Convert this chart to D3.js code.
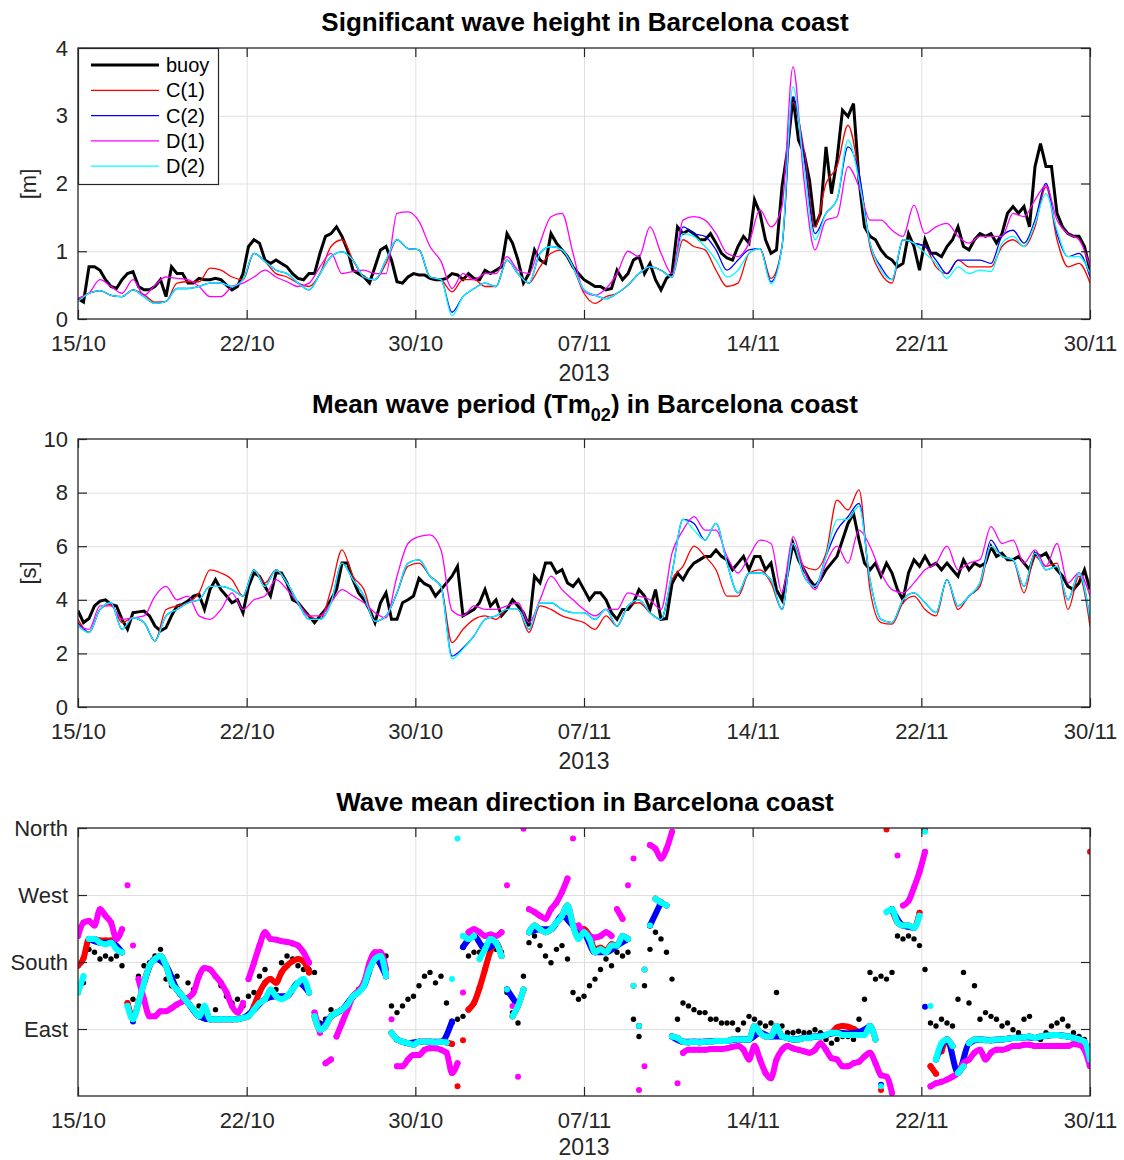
<!DOCTYPE html>
<html>
<head>
<meta charset="utf-8">
<script src="https://cdn.jsdelivr.net/npm/d3@7"></script>
<style>
  body { margin: 0; background: #fff; }
  svg { display: block; }
  text { font-family: "Liberation Sans", Arial, Helvetica, sans-serif; }
</style>
</head>
<body>
<svg id="chart" width="1124" height="1160"></svg>
<script>
// ---------------------------------------------------------------------------
// Time span and tick positions (six equal intervals, labelled dd/mm)
// ---------------------------------------------------------------------------
const startDate = "2013-10-15T00:00:00Z";
const endDate   = "2013-11-30T00:00:00Z";
const xTickDates = [
  "2013-10-15T00:00:00Z", "2013-10-22T16:00:00Z", "2013-10-30T08:00:00Z",
  "2013-11-07T00:00:00Z", "2013-11-14T16:00:00Z", "2013-11-22T08:00:00Z",
  "2013-11-30T00:00:00Z"
];
const xAxisLabel = "2013";

const seriesNames  = ["buoy", "C(1)", "C(2)", "D(1)", "D(2)"];
const seriesColors = ["#000000", "#ff0000", "#0000ff", "#ff00ff", "#00ffff"];

// ---------------------------------------------------------------------------
// Significant wave height [m]; buoy every 6 h, model runs every 12 h
// ---------------------------------------------------------------------------
const hsTicks = [0, 1, 2, 3, 4];
const hsBuoy = [
  0.30,0.25,0.77,0.77, 0.72,0.58,0.48,0.45, 0.58,0.67,0.70,0.48, 0.43,0.43,0.48,0.58, 0.33,0.77,0.67,0.67,
  0.53,0.53,0.60,0.58, 0.58,0.60,0.58,0.50, 0.43,0.48,0.67,1.07, 1.17,1.12,0.87,0.82, 0.87,0.82,0.77,0.67,
  0.60,0.58,0.67,0.67, 0.97,1.22,1.26,1.36, 1.22,1.02,0.72,0.67, 0.62,0.53,0.77,1.02, 1.07,0.87,0.55,0.53,
  0.62,0.67,0.65,0.65, 0.60,0.58,0.58,0.60, 0.67,0.65,0.58,0.67, 0.60,0.58,0.72,0.67, 0.72,0.77,1.26,1.12,
  0.87,0.53,0.67,1.02, 0.87,0.82,1.26,1.12, 1.02,0.92,0.77,0.67, 0.58,0.53,0.48,0.48, 0.43,0.45,0.72,0.58,
  0.67,0.87,0.92,0.67, 0.82,0.58,0.43,0.60, 0.67,1.36,1.26,1.31, 1.26,1.17,1.17,1.26, 1.12,0.97,0.90,0.87,
  1.07,1.22,1.12,1.76, 1.56,1.17,0.97,1.02, 1.95,2.49,3.28,2.64, 2.45,2.05,1.36,1.56, 2.54,1.85,2.35,3.08,
  2.99,3.18,2.05,1.36, 1.22,1.17,1.02,0.92, 0.87,0.77,0.82,1.26, 1.07,0.72,1.17,0.97, 0.97,0.92,1.07,1.17,
  1.36,1.07,1.02,1.17, 1.26,1.22,1.26,1.12, 1.26,1.56,1.66,1.56, 1.66,1.36,2.25,2.59, 2.25,2.25,1.56,1.36,
  1.26,1.22,1.22,1.07, 0.72
];
const hsC1 = [
  0.30,0.38, 0.42,0.35, 0.33,0.43, 0.36,0.25, 0.26,0.53,
  0.55,0.55, 0.75,0.72, 0.62,0.58, 0.97,0.85, 0.67,0.62,
  0.53,0.48, 0.67,1.07, 1.17,0.87, 0.62,0.58, 0.82,1.17,
  1.04,1.02, 0.62,0.58, 0.40,0.58, 0.58,0.48, 0.48,0.87,
  0.67,0.53, 0.77,0.97, 1.02,0.77, 0.38,0.23, 0.33,0.38,
  0.50,0.67, 0.77,0.72, 0.62,1.17, 1.07,1.02, 0.72,0.48,
  0.53,0.97, 1.04,0.60, 1.07,3.20, 2.50,1.36, 2.00,2.25,
  2.86,2.15, 1.07,0.67, 0.53,1.17, 1.12,1.07, 0.77,0.67,
  0.87,0.77, 0.77,0.77, 1.07,1.17, 1.07,1.36, 1.95,1.17,
  0.77,0.82, 0.53
];
const hsC2 = [
  0.28,0.38, 0.42,0.35, 0.33,0.43, 0.33,0.23, 0.26,0.45,
  0.45,0.48, 0.53,0.53, 0.48,0.58, 0.97,0.85, 0.72,0.67,
  0.53,0.43, 0.67,0.92, 0.99,0.87, 0.62,0.58, 0.87,1.17,
  1.04,1.02, 0.62,0.58, 0.10,0.33, 0.45,0.53, 0.48,0.87,
  0.67,0.53, 0.97,1.07, 1.02,0.77, 0.43,0.35, 0.30,0.38,
  0.50,0.67, 0.77,0.72, 0.62,1.36, 1.26,1.22, 1.02,0.72,
  0.87,1.02, 1.04,0.55, 1.07,3.28, 2.40,1.26, 1.56,1.76,
  2.54,2.15, 1.12,0.77, 0.58,1.17, 1.12,1.07, 0.87,0.67,
  0.87,0.87, 0.87,0.82, 1.22,1.31, 1.12,1.46, 2.00,1.26,
  0.92,0.97, 0.62
];
const hsD1 = [
  0.30,0.38, 0.58,0.48, 0.38,0.58, 0.35,0.50, 0.62,0.60,
  0.58,0.48, 0.33,0.33, 0.48,0.53, 0.62,0.72, 0.62,0.55,
  0.48,0.53, 0.77,0.97, 0.67,0.70, 0.72,0.67, 0.67,1.56,
  1.58,1.44, 1.07,0.85, 0.45,0.67, 0.58,0.67, 0.67,0.92,
  0.72,0.67, 1.12,1.51, 1.56,0.97, 0.41,0.35, 0.45,0.67,
  1.00,0.92, 1.36,0.97, 0.67,1.46, 1.51,1.46, 1.26,0.97,
  0.92,1.12, 1.61,1.36, 1.66,3.72, 2.05,1.02, 1.46,1.51,
  2.25,1.95, 1.46,1.46, 1.31,1.22, 1.68,1.26, 1.36,1.41,
  1.22,1.12, 1.22,1.22, 1.22,1.56, 1.51,1.76, 1.97,1.46,
  1.26,1.17, 0.77
];
const hsD2 = [
  0.26,0.38, 0.42,0.35, 0.33,0.43, 0.33,0.23, 0.26,0.45,
  0.45,0.48, 0.53,0.53, 0.48,0.58, 0.97,0.85, 0.72,0.67,
  0.53,0.43, 0.67,0.92, 0.99,0.87, 0.62,0.58, 0.87,1.17,
  1.04,1.02, 0.62,0.58, 0.05,0.33, 0.45,0.53, 0.48,0.87,
  0.67,0.53, 0.97,1.07, 1.02,0.77, 0.43,0.35, 0.30,0.38,
  0.50,0.67, 0.77,0.72, 0.62,1.26, 1.22,1.07, 0.87,0.62,
  0.72,0.97, 1.04,0.52, 1.07,3.43, 2.25,1.17, 1.56,1.76,
  2.64,2.05, 1.12,0.72, 0.58,1.17, 1.12,0.97, 0.82,0.60,
  0.77,0.67, 0.72,0.70, 1.12,1.22, 1.07,1.41, 1.85,1.31,
  0.92,0.92, 0.67
];

// ---------------------------------------------------------------------------
// Mean wave period Tm02 [s]
// ---------------------------------------------------------------------------
const tmTicks = [0, 2, 4, 6, 8, 10];
const tmBuoy = [
  3.60,3.15,3.30,3.77, 3.95,4.00,3.83,3.77, 3.27,2.90,3.52,3.55, 3.58,3.40,3.02,2.84, 2.96,3.40,3.77,3.83,
  3.95,4.14,4.20,3.64, 4.38,4.75,4.38,4.14, 3.89,4.00,3.52,4.50, 5.00,4.88,4.50,4.14, 5.00,5.00,4.63,4.00,
  3.89,3.64,3.40,3.15, 3.40,3.64,4.00,4.38, 5.37,5.37,4.75,4.26, 4.00,3.64,3.15,3.89, 4.26,3.27,3.27,3.89,
  4.00,4.14,4.80,4.60, 4.50,4.14,4.38,4.63, 4.88,5.25,3.40,3.52, 3.64,3.89,4.38,3.77, 4.00,3.40,3.64,4.00,
  3.77,3.52,3.02,4.88, 4.63,5.37,5.37,5.00, 5.12,4.63,4.50,4.75, 4.38,4.00,4.26,4.26, 4.00,3.52,3.27,3.64,
  3.64,3.89,4.38,4.14, 3.64,4.38,3.27,3.30, 4.60,5.00,4.75,5.12, 5.37,5.49,5.62,5.62, 5.86,5.62,5.49,5.12,
  5.37,5.62,5.12,5.62, 5.62,5.12,5.37,4.38, 4.00,5.00,6.10,5.49, 5.12,4.75,4.50,4.75, 5.12,5.37,5.62,6.23,
  6.85,7.22,6.23,5.37, 5.12,5.37,4.88,5.37, 5.00,4.38,4.00,5.00, 5.49,5.25,5.62,5.25, 5.37,5.12,5.37,5.12,
  4.88,5.49,5.12,5.37, 5.25,5.37,5.99,5.62, 5.74,5.49,5.49,5.62, 5.37,5.12,5.74,5.62, 5.74,5.37,5.12,4.88,
  4.50,4.38,4.63,5.12, 4.38
];
const tmC1 = [
  3.27,2.78, 3.64,3.83, 3.15,3.33, 3.15,2.47, 3.64,3.77,
  3.89,4.26, 5.12,5.00, 4.75,4.14, 5.12,4.63, 5.12,4.63,
  3.89,3.40, 3.27,4.38, 5.86,4.88, 4.38,3.20, 3.40,4.26,
  5.25,5.37, 4.88,4.50, 2.40,2.90, 3.27,3.40, 3.27,3.64,
  3.64,2.78, 3.77,3.64, 3.40,3.27, 3.15,2.90, 3.40,3.02,
  3.77,3.89, 3.52,3.27, 4.75,5.25, 6.00,5.62, 5.12,4.14,
  4.14,5.00, 5.12,4.63, 3.64,6.10, 5.25,5.12, 5.74,7.72,
  7.35,8.10, 4.38,3.15, 3.09,3.89, 4.14,3.64, 3.40,4.75,
  3.64,4.14, 4.50,5.99, 5.62,5.50, 4.26,5.62, 5.25,5.37,
  3.64,4.88, 3.02
];
const tmC2 = [
  3.15,2.78, 3.64,3.89, 2.90,3.33, 3.15,2.47, 3.40,3.64,
  3.89,4.00, 4.50,4.50, 4.38,4.14, 5.12,4.50, 5.12,4.63,
  3.89,3.27, 3.27,3.89, 5.37,4.75, 4.14,3.20, 3.40,4.26,
  5.37,5.49, 4.88,4.50, 1.90,2.20, 2.65,3.27, 3.40,3.64,
  3.64,2.90, 3.89,3.89, 3.64,3.52, 3.52,3.27, 3.64,3.02,
  3.77,4.00, 3.52,3.27, 5.00,7.00, 6.85,6.23, 6.85,5.37,
  4.26,5.00, 5.00,4.75, 3.64,6.10, 4.88,4.50, 5.62,6.60,
  7.10,7.60, 4.75,3.27, 3.15,4.00, 4.26,3.89, 3.52,4.75,
  3.77,4.14, 4.63,6.23, 5.62,5.50, 4.50,5.74, 5.12,5.25,
  4.00,5.00, 3.27
];
const tmD1 = [
  3.02,2.90, 3.77,3.77, 3.27,3.33, 3.40,4.14, 4.50,4.00,
  4.14,3.40, 3.27,3.64, 4.26,3.64, 4.00,4.14, 4.75,4.38,
  3.89,3.40, 3.40,3.89, 4.38,4.14, 3.89,3.52, 3.33,4.88,
  6.10,6.36, 6.42,5.86, 3.60,3.40, 3.77,3.64, 3.64,3.77,
  3.89,3.15, 4.00,4.88, 4.38,4.00, 3.64,3.40, 3.64,3.64,
  4.26,4.14, 4.00,3.64, 5.74,6.60, 7.10,6.60, 6.60,5.62,
  5.00,5.62, 6.23,6.10, 4.26,6.36, 5.12,4.38, 5.37,6.00,
  5.37,6.60, 6.00,5.00, 4.38,4.26, 4.63,5.12, 5.37,6.00,
  5.12,5.37, 5.50,6.73, 6.10,6.23, 5.37,5.86, 5.25,6.10,
  4.63,5.00, 4.14
];
const tmD2 = [
  3.02,2.78, 3.64,3.89, 2.90,3.33, 3.15,2.47, 3.40,3.64,
  3.89,4.00, 4.50,4.50, 4.38,4.14, 5.12,4.50, 5.12,4.63,
  3.89,3.27, 3.27,3.89, 5.37,4.75, 4.14,3.20, 3.40,4.26,
  5.37,5.49, 4.88,4.50, 1.80,2.16, 2.65,3.27, 3.40,3.64,
  3.64,2.90, 3.89,3.89, 3.64,3.52, 3.52,3.27, 3.64,3.02,
  3.77,4.00, 3.52,3.27, 5.00,7.00, 6.60,6.23, 6.85,5.37,
  4.26,5.00, 5.00,4.75, 3.64,6.10, 4.88,4.50, 5.62,6.98,
  7.00,7.50, 4.75,3.27, 3.15,4.00, 4.26,3.89, 3.52,4.75,
  3.77,4.14, 4.63,5.99, 5.62,5.50, 4.50,5.74, 5.12,5.25,
  4.00,5.00, 3.27
];

// ---------------------------------------------------------------------------
// Mean wave direction [deg, nautical]; every 6 h except C(2) (12 h)
// ---------------------------------------------------------------------------
const dirTicks = [90, 180, 270, 360];
const dirTickLabels = ["East", "South", "West", "North"];
const dirBuoy = [
  140,152,197,193, 184,188,184,188, 175,121,130,161, 175,179,188,197, 157,148,161,134,
  152,143,121,112, 103,116,148,134, 125,130,121,134, 139,161,170,157, 143,179,188,184,
  175,170,170,166, 98,103,116,112, 116,125,134,143, 152,175,188,193, 188,121,112,121,
  130,134,148,161, 166,152,161,125, 98,103,107,188, 193,193,202,202, 197,193,139,112,
  98,161,206,215, 202,188,179,197, 202,184,139,130, 134,148,157,170, 184,175,193,188,
  193,103,80,148, 197,220,211,193, 157,103,125,121, 116,112,112,103, 103,98,98,98,
  89,98,107,103, 98,94,98,139, 94,85,85,87, 85,85,89,85, 76,71,76,80,
  80,76,103,130, 166,157,161,157, 166,215,211,215, 211,202,170,98, 94,103,98,94,
  130,166,125,148, 103,112,107,103, 94,98,89,85, 103,107,67,76, 85,94,98,103,
  94,85,80,76, 67
];
const dirC1 = [
  175,185,211,211, 209,209,209,200, 193,125,105,125, 152,175,184,188, 175,152,143,134,
  125,116,107,118, 103,103,103,103, 103,103,105,107, 121,139,152,157, 152,166,175,181,
  184,181,166,107, 89,94,107,112, 116,123,134,141, 152,172,184,188, 161,85,76,73,
  71,69,73,73, 73,72,73,72, 70,13,75,116, 125,145,170,195, 206,188,143,107,
  121,143,220,229, 224,220,224,233, 242,256,229,213, 224,215,197,199, 195,204,202,215,
  211,148,94,170, 229,265,260,256, 80,78,73,72, 73,72,73,73, 74,74,74,76,
  76,76,76,94, 85,80,80,94, 80,78,76,76, 78,78,80,80, 82,85,92,94,
  93,90,86,84, 94,76,8,358, 251,233,229,229, 226,246,358,40, 30,60,76,67,
  31,40,71,76, 76,75,75,76, 76,77,78,78, 79,80,78,80, 81,82,82,81,
  80,78,76,73, 328
];
const dirC2 = [
  139,211, 206,206, 193,100, 152,184, 175,143,
  125,107, 103,103, 103,105, 116,130, 134,134,
  152,139, 89,107, 116,134, 148,184, 161,76,
  71,73, 73,73, 100,200, 215,197, 206,143,
  121,220, 224,224, 242,229, 220,193, 193,202,
  211,94, 229,260, 80,73, 73,73, 74,74,
  76,76, 85,80, 80,76, 78,80, 82,85,
  84,86, 94,15, 251,229, 226,120, 49,76,
  31,71, 76,75, 76,78, 79,78, 81,82,
  80,76, 60
];
const dirD1 = [
  215,233,235,229, 251,242,233,211, 224,283,202,157, 130,107,107,114, 114,118,123,127,
  132,139,161,172, 170,161,152,139, 121,112,125,157, 179,202,220,211, 210,208,207,205,
  202,193,179,112, 85,44,49,80, 98,116,134,141, 152,179,193,193, 170,103,40,40,
  49,55,55,62, 64,64,62,58, 31,44,139,220, 224,220,215,217, 215,220,283,121,
  26,359,251,247, 242,238,251,260, 274,292,346,229, 220,215,213,215, 220,215,251,238,
  283,319,8,40, 337,332,319,332, 355,17,58,62, 62,62,62,63, 63,63,64,66,
  67,62,49,67, 49,31,24,49, 62,67,64,62, 60,58,62,71, 62,51,49,40,
  40,44,46,53, 58,44,28,26, 4,323,256,262, 280,301,328,13, 17,19,22,26,
  31,44,49,58, 62,49,58,62, 62,64,67,67, 69,69,67,67, 67,67,67,67,
  67,70,69,62, 40
];
const dirD2 = [
  139,161,211,211, 206,204,206,197, 193,121,103,125, 152,175,184,188, 175,152,143,134,
  125,116,107,121, 103,103,103,103, 103,103,105,107, 116,125,130,143, 134,130,134,143,
  152,157,139,107, 89,94,107,112, 116,123,134,139, 148,170,184,188, 161,85,76,73,
  71,69,73,73, 73,72,73,72, 157,346,215,211, 215,184,197,211, 206,188,143,107,
  121,143,220,229, 224,220,224,233, 242,256,229,211, 220,211,193,197, 193,202,202,215,
  211,148,94,170, 229,265,260,256, 80,78,73,72, 73,72,73,73, 74,74,74,76,
  76,76,76,94, 85,80,80,94, 80,78,76,76, 78,78,80,80, 82,85,85,82,
  82,82,82,82, 94,76,13,247, 251,233,229,229, 226,242,355,121, 49,71,76,67,
  31,40,71,76, 76,75,75,76, 76,77,78,78, 79,80,78,80, 81,82,82,81,
  80,78,76,73, 49
];

// ---------------------------------------------------------------------------
// Drawing
// ---------------------------------------------------------------------------
const svg = d3.select("#chart");
const LEFT = 78, RIGHT = 1090;
const AXIS = "#262626", GRID = "#dfdfdf";
const t0 = new Date(startDate), t1 = new Date(endDate);
const x = d3.scaleUtc().domain([t0, t1]).range([LEFT, RIGHT]);
const xTicks = xTickDates.map(s => new Date(s));
const fmt = d3.utcFormat("%d/%m");

// pair each value with its time, samples evenly spread over the period
function timeline(values) {
  const step = (t1 - t0) / (values.length - 1);
  return values.map((v, i) => ({ t: new Date(+t0 + i * step), v }));
}

let clipId = 0;
function frame(top, bottom, yDomain, yTicks, yFormat, labelOffset) {
  const y = d3.scaleLinear().domain(yDomain).range([bottom, top]);
  const g = svg.append("g");
  const h = bottom - top;

  // grid
  const gx = g.append("g").attr("transform", `translate(0,${bottom})`)
    .call(d3.axisBottom(x).tickValues(xTicks.slice(1, -1)).tickSize(-h).tickFormat(""));
  const gy = g.append("g").attr("transform", `translate(${LEFT},0)`)
    .call(d3.axisLeft(y).tickValues(yTicks.filter(v => v > yDomain[0] && v < yDomain[1])).tickSize(-(RIGHT - LEFT)).tickFormat(""));
  [gx, gy].forEach(a => { a.select(".domain").remove(); a.selectAll("line").attr("stroke", GRID).attr("stroke-width", 1); });

  const id = "clip" + (clipId++);
  svg.append("clipPath").attr("id", id).append("rect")
    .attr("x", LEFT).attr("y", top).attr("width", RIGHT - LEFT).attr("height", h);
  const plot = g.append("g").attr("clip-path", `url(#${id})`);

  const axes = g.append("g");
  function finish() {
    const styleAxis = a => {
      a.select(".domain").remove();
      a.selectAll("line").attr("stroke", AXIS).attr("stroke-width", 1.2);
      a.selectAll("text").attr("fill", AXIS).attr("font-size", 22);
    };
    axes.append("g").attr("transform", `translate(0,${bottom})`)
      .call(d3.axisBottom(x).tickValues(xTicks).tickFormat(fmt).tickSizeInner(-9).tickSizeOuter(0).tickPadding(16))
      .call(styleAxis);
    axes.append("g").attr("transform", `translate(0,${top})`)
      .call(d3.axisTop(x).tickValues(xTicks).tickFormat("").tickSizeInner(-9).tickSizeOuter(0))
      .call(styleAxis);
    axes.append("g").attr("transform", `translate(${LEFT},0)`)
      .call(d3.axisLeft(y).tickValues(yTicks).tickFormat(yFormat).tickSizeInner(-9).tickSizeOuter(0).tickPadding(10))
      .call(styleAxis);
    axes.append("g").attr("transform", `translate(${RIGHT},0)`)
      .call(d3.axisRight(y).tickValues(yTicks).tickFormat("").tickSizeInner(-9).tickSizeOuter(0))
      .call(styleAxis);
    axes.selectAll(".tick text").attr("font-family", "'Liberation Sans', Arial, sans-serif");
    axes.append("rect").attr("x", LEFT).attr("y", top).attr("width", RIGHT - LEFT).attr("height", h)
      .attr("fill", "none").attr("stroke", AXIS).attr("stroke-width", 1.3);
    axes.append("text").attr("x", (LEFT + RIGHT) / 2).attr("y", bottom + labelOffset)
      .attr("text-anchor", "middle").attr("font-size", 23).attr("fill", AXIS).text(xAxisLabel);
  }
  return { y, plot, g, finish };
}

function title(yBase, parts) {
  const t = svg.append("text").attr("x", 585).attr("y", yBase).attr("text-anchor", "middle")
    .attr("font-size", 26).attr("font-weight", "bold").attr("fill", "#000");
  parts.forEach(p => {
    const s = t.append("tspan").text(p.text);
    if (p.dy) s.attr("dy", p.dy);
    if (p.size) s.attr("font-size", p.size);
  });
}

function yLabel(cx, cy, txt) {
  svg.append("text").attr("transform", `translate(${cx},${cy}) rotate(-90)`)
    .attr("text-anchor", "middle").attr("font-size", 22).attr("fill", AXIS).text(txt);
}

function drawLines(panel, list) {
  list.forEach((vals, i) => {
    const line = d3.line().x(d => x(d.t)).y(d => panel.y(d.v))
      .curve(i === 0 ? d3.curveLinear : d3.curveMonotoneX);
    panel.plot.append("path").datum(timeline(vals))
      .attr("fill", "none").attr("stroke", seriesColors[i])
      .attr("stroke-width", i === 0 ? 3 : 1.3)
      .attr("stroke-linejoin", "miter")
      .attr("d", line);
  });
}

// ---- Panel 1: significant wave height
title(31, [{ text: "Significant wave height in Barcelona coast" }]);
const p1 = frame(48, 319, [0, 4], hsTicks, d3.format("d"), 62);
drawLines(p1, [hsBuoy, hsC1, hsC2, hsD1, hsD2]);
p1.finish();
yLabel(36, 184, "[m]");

// legend
const lg = svg.append("g");
lg.append("rect").attr("x", 78.5).attr("y", 48.5).attr("width", 140).attr("height", 136)
  .attr("fill", "#fff").attr("stroke", AXIS).attr("stroke-width", 1.2);
seriesNames.forEach((name, i) => {
  const yy = 65 + i * 25.3;
  lg.append("line").attr("x1", 91).attr("x2", 159).attr("y1", yy).attr("y2", yy)
    .attr("stroke", seriesColors[i]).attr("stroke-width", i === 0 ? 3.2 : 1.3);
  lg.append("text").attr("x", 166).attr("y", yy + 7).attr("font-size", 20).attr("fill", "#000").text(name);
});

// ---- Panel 2: mean wave period
title(413, [{ text: "Mean wave period (Tm" }, { text: "02", dy: 8, size: 18 }, { text: ") in Barcelona coast", dy: -8 }]);
const p2 = frame(439, 707, [0, 10], tmTicks, d3.format("d"), 62);
drawLines(p2, [tmBuoy, tmC1, tmC2, tmD1, tmD2]);
p2.finish();
yLabel(36, 573, "[s]");

// ---- Panel 3: mean wave direction (scatter; slow drifts merge into bands)
title(811, [{ text: "Wave mean direction in Barcelona coast" }]);
const p3 = frame(828, 1096, [0, 360], dirTicks, (d, i) => dirTickLabels[i], 59);

const dirSeries = [dirBuoy, dirC1, dirC2, dirD1, dirD2];
dirSeries.forEach((vals, i) => {
  const pts = timeline(vals);
  const col = seriesColors[i];
  if (i > 0) {
    // consecutive samples closer than this merge into a continuous band
    const gap = vals.length > 100 ? 28 : 45;
    const segs = [];
    let cur = [pts[0]];
    for (let k = 1; k < pts.length; k++) {
      if (Math.abs(pts[k].v - pts[k - 1].v) <= gap) cur.push(pts[k]);
      else { segs.push(cur); cur = [pts[k]]; }
    }
    segs.push(cur);
    const line = d3.line().x(d => x(d.t)).y(d => p3.y(d.v)).curve(d3.curveMonotoneX);
    p3.plot.selectAll(null).data(segs.filter(s => s.length > 1)).enter().append("path")
      .attr("d", line).attr("fill", "none").attr("stroke", col)
      .attr("stroke-width", 6).attr("stroke-linecap", "round").attr("stroke-linejoin", "round");
  }
  p3.plot.selectAll(null).data(pts).enter().append("circle")
    .attr("cx", d => x(d.t)).attr("cy", d => p3.y(d.v))
    .attr("r", i === 0 ? 2.7 : 3).attr("fill", col);
});
p3.finish();
</script>
</body>
</html>
